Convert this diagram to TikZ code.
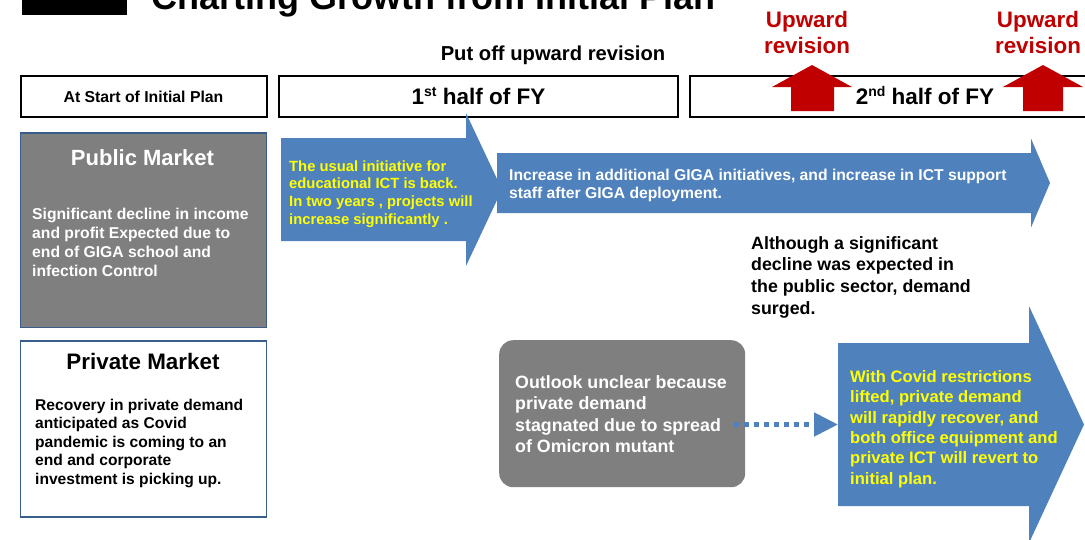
\documentclass[tikz,border=0pt]{standalone}
\usepackage{fontspec}
\setmainfont{Liberation Sans}
\usetikzlibrary{arrows.meta,calc}
\definecolor{blockblue}{HTML}{4F81BD}
\definecolor{boxgray}{HTML}{7F7F7F}
\definecolor{edgeblue}{HTML}{385D8A}
\definecolor{revred}{HTML}{C00000}
\definecolor{hiyellow}{HTML}{FFFF00}
% multi-line text block: size, line skip, column alignment, lines
\newcommand\txtblock[4]{{\fontsize{#1}{#2}\selectfont\begin{tabular}[t]{@{}#3@{}}#4\end{tabular}}}
\newcommand\ordsup[1]{\raisebox{0.34em}{\fontsize{14}{14}\selectfont #1}}
\newcommand\fsz[1]{\fontsize{#1}{#1}\selectfont}

\begin{document}
\begin{tikzpicture}[x=1pt,y=-1pt,font=\bfseries,
  hdrbox/.style={draw=black,line width=2pt,inner sep=0pt,text depth=0pt},
  marketbox/.style={draw=edgeblue,line width=1.8pt,inner sep=0pt,anchor=north west},
  txt/.style={inner sep=0pt,anchor=base west},
  ctxt/.style={inner sep=0pt,anchor=base},
  blockarrow/.style={fill=blockblue},
  uparrow/.style={fill=revred},
  dotconn/.style={draw=blockblue,line width=5pt,dash pattern=on 5pt off 5pt,
    -{Triangle[length=24pt,width=23pt]}}]

\useasboundingbox (0,0) rectangle (1085,539);

% heading band
\node[fill=black,inner sep=0pt,minimum width=105pt,minimum height=22pt,anchor=south west] (tag) at (22,15) {};
\node[txt,font=\bfseries\fsz{36}] (title) at (151,9) {Charting Growth from Initial Plan};

% period header boxes
\node[hdrbox,minimum width=246pt,minimum height=41pt,text height=12pt,font=\bfseries\fsz{15.8}] (hstart) at (143.5,96) {At Start of Initial Plan};
\node[hdrbox,minimum width=399pt,minimum height=41pt,text height=16pt,font=\bfseries\fsz{22.5}] (hfirst) at (478.5,96) {1\ordsup{st} half of FY};
\node[hdrbox,minimum width=471pt,minimum height=41pt,text height=16pt,font=\bfseries\fsz{22.5}] (hsecond) at (925,96) {2\ordsup{nd} half of FY};

\node[ctxt,font=\bfseries\fsz{20.2}] (putoff) at (553,60) {Put off upward revision};

% upward revision markers
\fill[uparrow] (791,111) -- (791,87) -- (772,87) -- (812,65) -- (852,87) -- (834,87) -- (834,111) -- cycle;
\fill[uparrow] (1023,111) -- (1023,87) -- (1003,87) -- (1043,65) -- (1083,87) -- (1063,87) -- (1063,111) -- cycle;
\node[ctxt,text=revred] (rev1) at (807,27) {\txtblock{22.4}{26}{c}{Upward\\revision}};
\node[ctxt,text=revred] (rev2) at (1038,27) {\txtblock{22.4}{26}{c}{Upward\\revision}};

% market boxes
\node[marketbox,fill=boxgray,minimum width=246pt,minimum height=194.5pt] (pub) at (19.5,132) {};
\node[ctxt,text=white,font=\bfseries\fsz{22}] (pubtitle) at (142.5,165) {Public Market};
\node[txt,text=white] (pubtxt) at (32,219) {\txtblock{15.7}{19}{l}{Significant decline in income\\and profit Expected due to\\end of GIGA school and\\infection Control}};

\node[marketbox,fill=white,minimum width=246pt,minimum height=176pt] (priv) at (19.5,340) {};
\node[ctxt,font=\bfseries\fsz{22.4}] (privtitle) at (143,369) {Private Market};
\node[txt] (privtxt) at (35,410) {\txtblock{15.6}{18.5}{l}{Recovery in private demand\\anticipated as Covid\\pandemic is coming to an\\end and corporate\\investment is picking up.}};

% public market block arrows
\fill[blockarrow] (281,138) -- (466,138) -- (466,113) -- (502,189.5) -- (466,266) -- (466,241) -- (281,241) -- cycle;
\node[txt,text=hiyellow] (arr1txt) at (289,171) {\txtblock{14.8}{17.8}{l}{The usual initiative for\\educational ICT is back.\\In two years , projects will\\increase significantly .}};

\fill[blockarrow] (497,153) -- (1031,153) -- (1031,138.5) -- (1050,183) -- (1031,227.5) -- (1031,213) -- (497,213) -- cycle;
\node[txt,text=white] (arr2txt) at (509,180) {\txtblock{15.7}{18}{l}{Increase in additional GIGA initiatives, and increase in ICT support\\staff after GIGA deployment.}};

\node[txt] (surgetxt) at (751,249) {\txtblock{17.8}{21.7}{l}{Although a significant\\decline was expected in\\the public sector, demand\\surged.}};

% private market outlook
\node[fill=boxgray,rounded corners=14pt,inner sep=0pt,minimum width=246pt,minimum height=147pt,anchor=north west] (outlook) at (499,340) {};
\node[txt,text=white] (outlooktxt) at (515,388) {\txtblock{17.8}{21.5}{l}{Outlook unclear because\\private demand\\stagnated due to spread\\of Omicron mutant}};

\fill[blockarrow] (838,343) -- (1029,343) -- (1029,306) -- (1084,424.5) -- (1029,543) -- (1029,506) -- (838,506) -- cycle;
\coordinate (arr3in) at (838,424.5);
\node[txt,text=hiyellow] (arr3txt) at (850,382.5) {\txtblock{16.6}{20.3}{l}{With Covid restrictions\\lifted, private demand\\will rapidly recover, and\\both office equipment and\\private ICT will revert to\\initial plan.}};

\draw[dotconn] ($(outlook.east |- arr3in)+(-11,0)$) -- (arr3in);

\end{tikzpicture}
\end{document}
